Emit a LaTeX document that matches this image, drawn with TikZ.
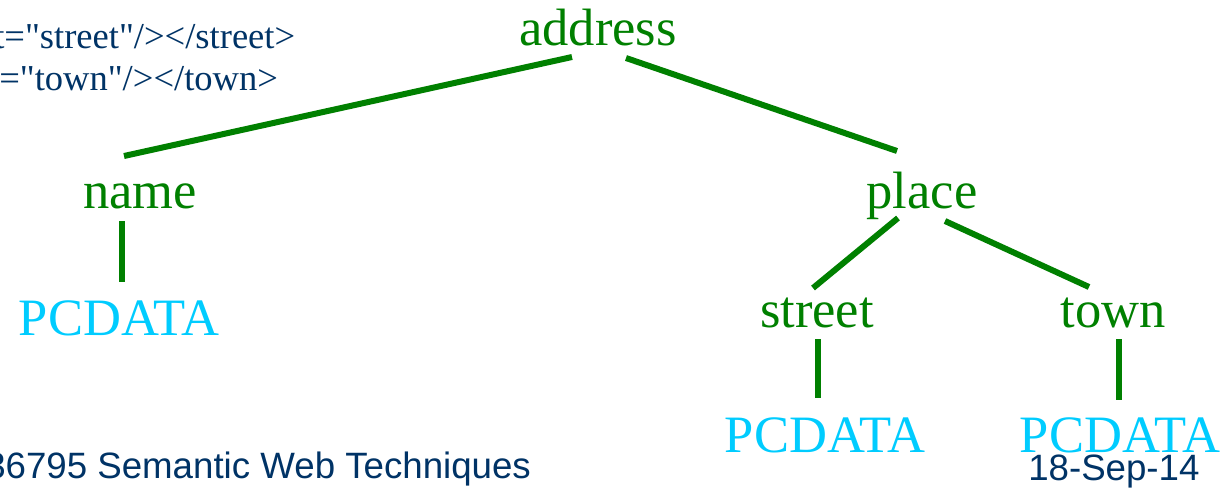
\documentclass[tikz,border=0pt]{standalone}
\usepackage{fontspec}
\setmainfont{Liberation Serif}
\newfontfamily\codefont{Liberation Serif}[Ligatures=TeXOff]
\newfontfamily\arialfont{Liberation Sans}
\definecolor{treegreen}{RGB}{0,128,0}
\definecolor{pcdcyan}{RGB}{0,204,255}
\definecolor{navyblue}{RGB}{0,51,102}
\begin{document}
\begin{tikzpicture}[x=0.75pt,y=-0.75pt,
  elem/.style={inner sep=0pt,anchor=base,text=treegreen,font=\fontsize{39.4}{47}\selectfont},
  pcd/.style={inner sep=0pt,anchor=base,text=pcdcyan,font=\fontsize{39.4}{47}\selectfont},
  codetxt/.style={inner sep=0pt,anchor=base west,text=navyblue,font=\codefont\fontsize{27.4}{33}\selectfont},
  foot/.style={inner sep=0pt,anchor=base west,text=navyblue,font=\arialfont\fontsize{27.5}{33}\selectfont},
  edge/.style={draw=treegreen,line width=4.5pt,line cap=butt}]
\useasboundingbox (0,0) rectangle (1223,487);
\clip (0,0) rectangle (1223,487);
\fill[white] (0,0) rectangle (1223,487);

% code fragment
\node[codetxt] (code1) at (-6,48) {t="street"/></street>};
\node[codetxt] (code2) at (-1,90) {="town"/></town>};

% tree nodes
\node[elem] (address) at (598,45) {address};
\node[elem] (name) at (140,208) {name};
\node[elem] (place) at (922,208) {place};
\node[elem] (street) at (817,327) {street};
\node[elem] (town) at (1113,327) {town};
\node[pcd] (pc1) at (119,335) {PCDATA};
\node[pcd] (pc2) at (825,452) {PCDATA};
\node[pcd] (pc3) at (1120,452) {PCDATA};

% connector end points
\coordinate (a-l) at (572,57);
\coordinate (a-r) at (626,58);
\coordinate (n-t) at (124,156);
\coordinate (n-b) at (122,221);
\coordinate (p-t) at (897,151);
\coordinate (p-bl) at (898,218);
\coordinate (p-br) at (945,221);
\coordinate (s-t) at (813,288);
\coordinate (s-b) at (818,339);
\coordinate (t-t) at (1089,287);
\coordinate (t-b) at (1119,339);
\coordinate (pc1-t) at (122,282);
\coordinate (pc2-t) at (818,398);
\coordinate (pc3-t) at (1119,400);

\draw[edge] (a-l) -- (n-t);
\draw[edge] (a-r) -- (p-t);
\draw[edge] (n-b) -- (pc1-t);
\draw[edge] (p-bl) -- (s-t);
\draw[edge] (p-br) -- (t-t);
\draw[edge] (s-b) -- (pc2-t);
\draw[edge] (t-b) -- (pc3-t);

% footer
\node[foot] (course) at (-15,478) {36795 Semantic Web Techniques};
\node[foot] (date) at (1028,480) {18-Sep-14};
\end{tikzpicture}
\end{document}
